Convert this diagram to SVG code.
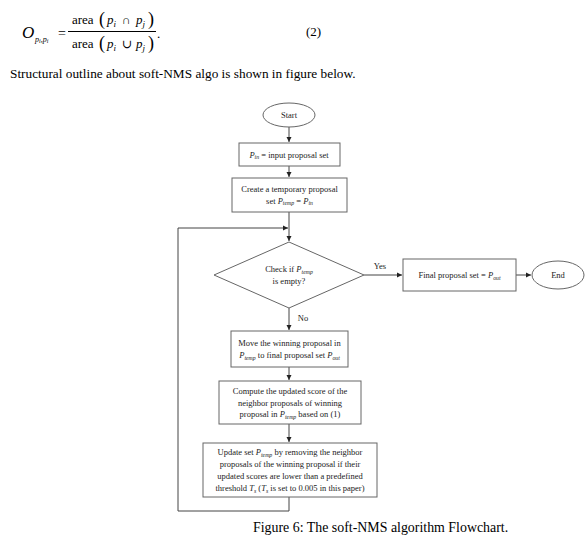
<svg xmlns="http://www.w3.org/2000/svg" width="587" height="542" viewBox="0 0 587 542" font-family="'Liberation Serif', 'DejaVu Serif', serif">
<defs>
<marker id="ah" markerWidth="6" markerHeight="6" refX="5" refY="3" orient="auto" markerUnits="userSpaceOnUse">
<path d="M0,0.5 L5,3 L0,5.5 Z" fill="#222"/>
</marker>
<style>
text{font-family:"Liberation Serif","DejaVu Serif",serif}
.n{fill:#fff;stroke:#666;stroke-width:1}
.c{fill:none;stroke:#444;stroke-width:1}
.t{font-size:8.5px;fill:#222;text-anchor:middle}
.i{font-style:italic}
.s{font-size:5.8px;font-style:italic}
.body{fill:#000}
</style>
</defs>
<rect width="587" height="542" fill="#fff"/>
<g id="equation" class="body">
<text x="22" y="38" font-size="17" font-style="italic">O</text>
<text x="35" y="42" font-size="8" font-style="italic">p<tspan font-size="6" dy="1">i</tspan><tspan dy="-1">,p</tspan><tspan font-size="6" dy="1">i</tspan></text>
<text x="58" y="38" font-size="14">=</text>
<text x="72" y="24" font-size="13">area</text>
<text x="99" y="25" font-size="18">(</text>
<text x="107" y="24" font-size="13" font-style="italic">p<tspan font-size="9" dy="3">i</tspan></text>
<text x="122" y="24" font-size="12">∩</text>
<text x="136" y="24" font-size="13" font-style="italic">p<tspan font-size="9" dy="3">j</tspan></text>
<text x="148" y="25" font-size="18">)</text>
<line x1="68" y1="31.5" x2="156" y2="31.5" stroke="#000" stroke-width="1"/>
<text x="72" y="48" font-size="13">area</text>
<text x="99" y="49" font-size="18">(</text>
<text x="107" y="48" font-size="13" font-style="italic">p<tspan font-size="9" dy="3">i</tspan></text>
<text x="122" y="48" font-size="12">∪</text>
<text x="136" y="48" font-size="13" font-style="italic">p<tspan font-size="9" dy="3">j</tspan></text>
<text x="148" y="49" font-size="18">)</text>
<text x="157" y="38" font-size="13">.</text>
<text x="306" y="36" font-size="13">(2)</text>
<text x="10" y="78" font-size="13.3">Structural outline about soft-NMS algo is shown in figure below.</text>
</g>
<g id="connectors">
<line class="c" x1="289" y1="127" x2="289" y2="142" marker-end="url(#ah)"/>
<line class="c" x1="289" y1="166" x2="289" y2="177" marker-end="url(#ah)"/>
<line class="c" x1="289" y1="212" x2="289" y2="241" marker-end="url(#ah)"/>
<polyline class="c" points="289,497 289,511 178,511 178,228 288,228" marker-end="url(#ah)"/>
<line class="c" x1="364" y1="275" x2="402" y2="275" marker-end="url(#ah)"/>
<line class="c" x1="516" y1="275" x2="531" y2="275" marker-end="url(#ah)"/>
<line class="c" x1="289" y1="308" x2="289" y2="330" marker-end="url(#ah)"/>
<line class="c" x1="289" y1="367" x2="289" y2="380" marker-end="url(#ah)"/>
<line class="c" x1="289" y1="424" x2="289" y2="442" marker-end="url(#ah)"/>
<text class="t" x="380" y="269">Yes</text>
<text class="t" x="303" y="321">No</text>
</g>
<g id="start">
<ellipse class="n" cx="289" cy="115" rx="26" ry="12"/>
<text class="t" x="289" y="118">Start</text>
</g>
<g id="input">
<rect class="n" x="239" y="143" width="101" height="23"/>
<text class="t" x="289" y="157.5"><tspan class="i">P</tspan><tspan class="s" dy="1.5">in</tspan><tspan dy="-1.5"> = input proposal set</tspan></text>
</g>
<g id="temp">
<rect class="n" x="232" y="178" width="115" height="34"/>
<text class="t" x="289.5" y="192">Create a temporary proposal</text>
<text class="t" x="289.5" y="203.5">set <tspan class="i">P</tspan><tspan class="s" dy="1.5">temp</tspan><tspan dy="-1.5"> = </tspan><tspan class="i">P</tspan><tspan class="s" dy="1.5">in</tspan></text>
</g>
<g id="check">
<polygon class="n" points="289,242 364,275 289,308 214,275"/>
<text class="t" x="289" y="272">Check if <tspan class="i">P</tspan><tspan class="s" dy="1.5">temp</tspan></text>
<text class="t" x="289" y="284">is empty?</text>
</g>
<g id="final">
<rect class="n" x="403" y="259" width="113" height="32"/>
<text class="t" x="459.5" y="278">Final proposal set = <tspan class="i">P</tspan><tspan class="s" dy="1.5">out</tspan></text>
</g>
<g id="end">
<ellipse class="n" cx="558" cy="275" rx="26" ry="14"/>
<text class="t" x="558" y="278">End</text>
</g>
<g id="move">
<rect class="n" x="231" y="331" width="117" height="36"/>
<text class="t" x="289.5" y="346">Move the winning proposal in</text>
<text class="t" x="289.5" y="358"><tspan class="i">P</tspan><tspan class="s" dy="1.5">temp</tspan><tspan dy="-1.5"> to final proposal set </tspan><tspan class="i">P</tspan><tspan class="s" dy="1.5">out</tspan></text>
</g>
<g id="compute">
<rect class="n" x="219" y="381" width="142" height="43"/>
<text class="t" x="290" y="394">Compute the updated score of the</text>
<text class="t" x="290" y="405.5">neighbor proposals of winning</text>
<text class="t" x="290" y="417">proposal in <tspan class="i">P</tspan><tspan class="s" dy="1.5">temp</tspan><tspan dy="-1.5"> based on (1)</tspan></text>
</g>
<g id="update">
<rect class="n" x="203" y="443" width="174" height="54"/>
<text class="t" x="290" y="455">Update set <tspan class="i">P</tspan><tspan class="s" dy="1.5">temp</tspan><tspan dy="-1.5"> by removing the neighbor</tspan></text>
<text class="t" x="290" y="467">proposals of the winning proposal if their</text>
<text class="t" x="290" y="479">updated scores are lower than a predefined</text>
<text class="t" x="290" y="491">threshold <tspan class="i">T</tspan><tspan class="s" dy="1.5">s</tspan><tspan dy="-1.5"> (</tspan><tspan class="i">T</tspan><tspan class="s" dy="1.5">s</tspan><tspan dy="-1.5"> is set to 0.005 in this paper)</tspan></text>
</g>
<g id="caption" class="body">
<text x="253" y="532" font-size="13.9">Figure 6: The soft-NMS algorithm Flowchart.</text>
</g>
</svg>
